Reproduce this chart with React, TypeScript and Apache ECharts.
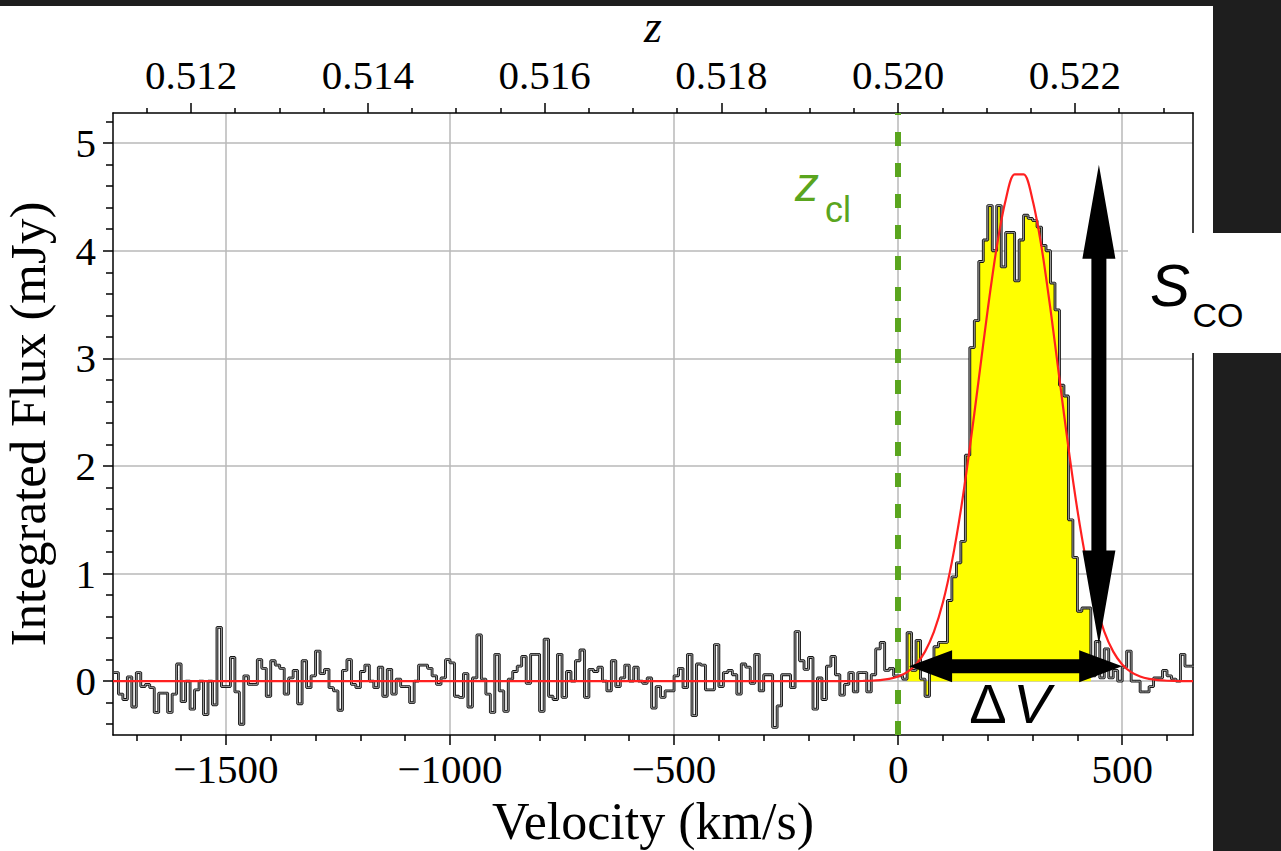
import React, { useEffect, useRef } from 'react';
import * as echarts from 'echarts';

// ---------------- data ----------------
// Spectrum channels: left edge of first channel and channel width (km/s)
const V_START = -1750;
const CHANNEL_WIDTH = 10;
// Integrated flux per channel (mJy)
const FLUX: number[] = [
  0.08, -0.12, -0.17, 0.04, -0.24, 0.08, -0.05, -0.03, -0.06, -0.29,
  -0.11, -0.11, -0.29, -0.12, 0.16, -0.19, 0.0, -0.26, -0.08, 0.0,
  -0.31, 0.0, -0.22, 0.5, -0.05, -0.05, 0.22, -0.1, -0.4, 0.05,
  -0.03, -0.03, 0.2, 0.12, -0.14, 0.19, 0.15, 0.12, -0.12, 0.03,
  0.1, -0.21, 0.19, -0.06, 0.05, 0.28, 0.07, 0.11, -0.06, -0.09,
  -0.27, 0.1, 0.2, -0.03, -0.06, 0.09, 0.15, 0.0, -0.06, 0.13,
  -0.14, 0.11, -0.12, 0.02, -0.05, -0.05, -0.2, 0.0, 0.15, 0.15,
  0.12, 0.05, -0.03, 0.03, 0.2, 0.17, -0.14, -0.15, 0.07, -0.24,
  0.03, 0.43, 0.02, -0.12, -0.29, 0.25, -0.09, -0.28, 0.02, 0.09,
  0.14, 0.23, -0.02, 0.25, 0.25, -0.28, 0.39, -0.14, -0.17, 0.25,
  -0.15, 0.09, 0.0, 0.19, 0.29, -0.15, 0.11, 0.09, 0.13, 0.0,
  -0.09, 0.19, -0.05, 0.03, 0.15, 0.0, 0.13, 0.0, -0.02, 0.03,
  -0.25, -0.05, -0.15, -0.09, -0.09, 0.05, 0.12, -0.06, 0.25, -0.32,
  0.16, 0.15, -0.08, -0.08, 0.34, -0.05, 0.08, 0.1, 0.06, -0.12,
  0.16, 0.13, -0.02, 0.25, -0.09, 0.06, 0.06, -0.43, -0.23, 0.06,
  0.06, -0.06, 0.46, 0.19, 0.11, 0.22, -0.26, 0.03, -0.17, 0.14,
  0.23, 0.06, -0.13, -0.03, 0.08, -0.1, 0.08, 0.08, -0.1, 0.06,
  0.3, 0.36, 0.1, 0.12, 0.05, 0.05, 0.02, 0.45, 0.1, 0.38,
  0.02, -0.14, 0.12, 0.32, 0.36, 0.36, 0.75, 0.97, 1.1, 1.3,
  2.1, 3.1, 3.35, 3.9, 4.1, 4.42, 4.0, 4.42, 3.85, 4.17,
  4.17, 3.72, 4.1, 4.33, 4.3, 4.28, 4.22, 4.05, 4.0, 3.7,
  3.45, 2.75, 2.65, 1.5, 1.15, 0.65, 0.68, 0.68, 0.05, 0.37,
  0.03, 0.3, 0.03, 0.1, 0.0, 0.13, 0.28, 0.0, 0.0, -0.1,
  -0.1, -0.05, 0.03, 0.03, 0.1, 0.05, 0.02, 0.0, 0.25, 0.14,
  0.14,
];
// channels filled in yellow (line channels)
const YELLOW_FIRST = 177;
const YELLOW_LAST = 217;

// Gaussian fit curve
const FIT_VEL = [
  -1752, -120, -100, -80, -60, -40, -20, 0, 20, 40, 60, 80, 100, 120, 140, 160, 180, 200, 220, 240, 260,
  280, 300, 320, 340, 360, 380, 400, 420, 440, 460, 480, 500, 520, 540, 560, 580, 600, 620, 640, 658,
];
const FIT_FLUX = [
  0, 0, 0.001, 0.002, 0.004, 0.01, 0.021, 0.043, 0.084, 0.156, 0.275, 0.461, 0.733, 1.109, 1.592, 2.17, 2.81, 3.455, 4.034, 4.472, 4.71,
  4.71, 4.472, 4.034, 3.455, 2.81, 2.17, 1.592, 1.109, 0.733, 0.461, 0.275, 0.156, 0.084, 0.043, 0.021, 0.01, 0.004, 0.002, 0.001, 0,
];

// axes
const X_MIN = -1752;
const X_MAX = 658;
const Y_MIN = -0.5;
const Y_MAX = 5.28;
const X_MAJOR = [-1500, -1000, -500, 0, 500];
const X_MINOR = [
  -1700, -1600, -1400, -1300, -1200, -1100, -900, -800, -700, -600, -400, -300, -200, -100,
  100, 200, 300, 400, 600,
];
const Y_MAJOR = [0, 1, 2, 3, 4, 5];
const Y_MINOR = [
  -0.4, -0.2, 0.2, 0.4, 0.6, 0.8, 1.2, 1.4, 1.6, 1.8, 2.2, 2.4, 2.6, 2.8, 3.2, 3.4, 3.6, 3.8,
  4.2, 4.4, 4.6, 4.8, 5.2,
];
const Z_MAJOR = [0.512, 0.514, 0.516, 0.518, 0.52, 0.522];
const Z_MINOR = [
  0.5115, 0.5125, 0.513, 0.5135, 0.5145, 0.515, 0.5155, 0.5165, 0.517, 0.5175, 0.5185, 0.519,
  0.5195, 0.5205, 0.521, 0.5215, 0.5225, 0.523,
];
const Z_CL = 0.52;
const C_KMS = 299792.458;

// annotation anchors (data units)
const SCO_ARROW = { v: 448, from: 0.34, to: 4.8 };
const DV_ARROW = { y: 0.14, from: 24.5, to: 500 };

const SERIF = '"Liberation Serif", "Times New Roman", serif';
const SANS = '"Liberation Sans", Arial, sans-serif';
const GREEN = '#5aa51e';

const vFromZ = (z: number) => (C_KMS * (z - Z_CL)) / (1 + Z_CL);
const zFromV = (v: number) => Z_CL + (v * (1 + Z_CL)) / C_KMS;

export default function App() {
  const ref = useRef<HTMLDivElement>(null);
  useEffect(() => {
    if (!ref.current) return;
    const chart = echarts.init(ref.current, undefined, { renderer: 'svg' });

    const histPoints: number[][] = FLUX.map((f, i) => [V_START + i * CHANNEL_WIDTH, f]);
    histPoints.push([V_START + FLUX.length * CHANNEL_WIDTH, FLUX[FLUX.length - 1]]);
    const yellowPoints: number[][] = [];
    for (let i = YELLOW_FIRST; i <= YELLOW_LAST; i++) yellowPoints.push([V_START + i * CHANNEL_WIDTH, FLUX[i]]);
    yellowPoints.push([V_START + (YELLOW_LAST + 1) * CHANNEL_WIDTH, FLUX[YELLOW_LAST]]);
    const fitPoints = FIT_VEL.map((v, i) => [v, FIT_FLUX[i]]);

    const lineStyle = { color: '#000', width: 1.5 };
    const labelFont = { fontFamily: SERIF, fontSize: 41, color: '#000' };
    const gridLine = { show: true, lineStyle: { color: '#b8b8b8', width: 1.5 } };

    chart.setOption({
      animation: false,
      grid: { left: 113, top: 113, width: 1080, height: 622, containLabel: false, outerBoundsMode: 'none' },
      xAxis: [
        {
          type: 'value', position: 'bottom', min: X_MIN, max: X_MAX,
          axisLine: { onZero: false, lineStyle },
          axisTick: { show: true, inside: false, length: 10, customValues: X_MAJOR, lineStyle },
          axisLabel: {
            ...labelFont, margin: 13, customValues: X_MAJOR,
            formatter: (v: number) => (v < 0 ? '\u2212' + Math.abs(v) : String(v)),
          },
          splitLine: gridLine,
          name: 'Velocity (km/s)', nameLocation: 'middle', nameGap: 60,
          nameTextStyle: { fontFamily: SERIF, fontSize: 52, lineHeight: 52, color: '#000' },
        },
        {
          type: 'value', position: 'bottom', min: X_MIN, max: X_MAX,
          axisLine: { show: false, onZero: false },
          axisTick: { show: true, length: 6, customValues: X_MINOR, lineStyle },
          axisLabel: { show: false }, splitLine: { show: false },
        },
        {
          type: 'value', position: 'top', min: X_MIN, max: X_MAX,
          axisLine: { onZero: false, lineStyle },
          axisTick: { show: true, length: 10, customValues: Z_MAJOR.map(vFromZ), lineStyle },
          axisLabel: {
            ...labelFont, margin: 18, customValues: Z_MAJOR.map(vFromZ),
            formatter: (v: number) => zFromV(v).toFixed(3),
          },
          splitLine: { show: false },
          name: 'z', nameLocation: 'middle', nameGap: 58,
          nameTextStyle: { fontFamily: SERIF, fontSize: 46, lineHeight: 46, fontStyle: 'italic', color: '#000' },
        },
        {
          type: 'value', position: 'top', min: X_MIN, max: X_MAX,
          axisLine: { show: false, onZero: false },
          axisTick: { show: true, length: 5, customValues: Z_MINOR.map(vFromZ), lineStyle },
          axisLabel: { show: false }, splitLine: { show: false },
        },
      ],
      yAxis: [
        {
          type: 'value', position: 'left', min: Y_MIN, max: Y_MAX,
          axisLine: { onZero: false, lineStyle },
          axisTick: { show: true, length: 10, customValues: Y_MAJOR, lineStyle },
          axisLabel: { ...labelFont, margin: 17, customValues: Y_MAJOR },
          splitLine: gridLine,
          name: 'Integrated Flux (mJy)', nameLocation: 'middle', nameGap: 63,
          nameTextStyle: { fontFamily: SERIF, fontSize: 51, lineHeight: 44, color: '#000' },
        },
        {
          type: 'value', position: 'left', min: Y_MIN, max: Y_MAX,
          axisLine: { show: false, onZero: false },
          axisTick: { show: true, length: 7, customValues: Y_MINOR, lineStyle },
          axisLabel: { show: false }, splitLine: { show: false },
        },
        {
          type: 'value', position: 'right', min: Y_MIN, max: Y_MAX,
          axisLine: { onZero: false, lineStyle },
          axisTick: { show: false }, axisLabel: { show: false }, splitLine: { show: false },
        },
      ],
      series: [
        {
          type: 'line', data: yellowPoints, step: 'end', symbol: 'none', z: 2,
          lineStyle: { width: 0, opacity: 0 },
          areaStyle: { color: '#ffff00', opacity: 1 },
        },
        {
          type: 'line', data: histPoints, step: 'end', symbol: 'none', z: 3,
          lineStyle: { color: '#111', width: 2.8 },
        },
        {
          type: 'line', data: histPoints, step: 'end', symbol: 'none', z: 4,
          lineStyle: { color: '#9c9c9c', width: 1.0 },
        },
        {
          type: 'line', data: fitPoints, smooth: 0.3, symbol: 'none', z: 5,
          lineStyle: { color: '#ff2020', width: 2.2 },
        },
        {
          type: 'line', data: [], z: 6,
          markLine: {
            silent: true, symbol: ['none', 'none'], label: { show: false },
            lineStyle: { color: GREEN, width: 6, type: [14, 17], opacity: 1 },
            data: [{ xAxis: vFromZ(Z_CL) }],
          },
        },
      ],
    });

    const px = (v: number, f: number) =>
      chart.convertToPixel({ xAxisIndex: 0, yAxisIndex: 0 }, [v, f]) as number[];

    // vertical double arrow (S_CO)
    const [cx, ty] = px(SCO_ARROW.v, SCO_ARROW.to);
    const [, by] = px(SCO_ARROW.v, SCO_ARROW.from);
    const sw = 7.5, hw = 16.5, hl = 94;
    const vArrow = [
      [cx, ty], [cx + hw, ty + hl], [cx + sw, ty + hl], [cx + sw, by - hl], [cx + hw, by - hl],
      [cx, by], [cx - hw, by - hl], [cx - sw, by - hl], [cx - sw, ty + hl], [cx - hw, ty + hl],
    ];
    // horizontal double arrow (Delta V)
    const [lx, cy] = px(DV_ARROW.from, DV_ARROW.y);
    const [rx] = px(DV_ARROW.to, DV_ARROW.y);
    const hsw = 7, hhw = 16, hhl = 43;
    const hArrow = [
      [lx, cy], [lx + hhl, cy - hhw], [lx + hhl, cy - hsw], [rx - hhl, cy - hsw], [rx - hhl, cy - hhw],
      [rx, cy], [rx - hhl, cy + hhw], [rx - hhl, cy + hsw], [lx + hhl, cy + hsw], [lx + hhl, cy + hhw],
    ];

    chart.setOption({
      graphic: [
        { type: 'rect', silent: true, z: -100, shape: { x: 0, y: 6, width: 1213, height: 845 }, style: { fill: '#ffffff' } },
        { type: 'rect', silent: true, z: 50, shape: { x: 1128, y: 233, width: 153, height: 120 }, style: { fill: '#ffffff' } },
        { type: 'polygon', silent: true, z: 60, shape: { points: vArrow }, style: { fill: '#000' } },
        { type: 'polygon', silent: true, z: 60, shape: { points: hArrow }, style: { fill: '#000' } },
        { type: 'text', silent: true, z: 60, x: 1170, y: 285, style: { text: 'S', font: `italic 60px ${SANS}`, fill: '#000', align: 'center', verticalAlign: 'middle' } },
        { type: 'text', silent: true, z: 60, x: 1218, y: 315, style: { text: 'CO', font: `34px ${SANS}`, fill: '#000', align: 'center', verticalAlign: 'middle' } },
        { type: 'text', silent: true, z: 60, x: 988, y: 703, style: { text: '\u0394', font: `56px ${SANS}`, fill: '#000', align: 'center', verticalAlign: 'middle' } },
        { type: 'text', silent: true, z: 60, x: 1032, y: 703, style: { text: 'V', font: `italic 56px ${SANS}`, fill: '#000', align: 'center', verticalAlign: 'middle' } },
        { type: 'text', silent: true, z: 60, x: 807, y: 184, style: { text: 'z', font: `italic 48px ${SANS}`, fill: GREEN, align: 'center', verticalAlign: 'middle' } },
        { type: 'text', silent: true, z: 60, x: 838, y: 209, style: { text: 'cl', font: `36px ${SANS}`, fill: GREEN, align: 'center', verticalAlign: 'middle' } },
      ],
    });

    return () => chart.dispose();
  }, []);

  return (
    <div style={{ position: 'fixed', left: 0, top: 0, width: 1281, height: 851, background: '#1e1e1e' }}>
      <div ref={ref} style={{ width: 1281, height: 851 }} />
    </div>
  );
}
